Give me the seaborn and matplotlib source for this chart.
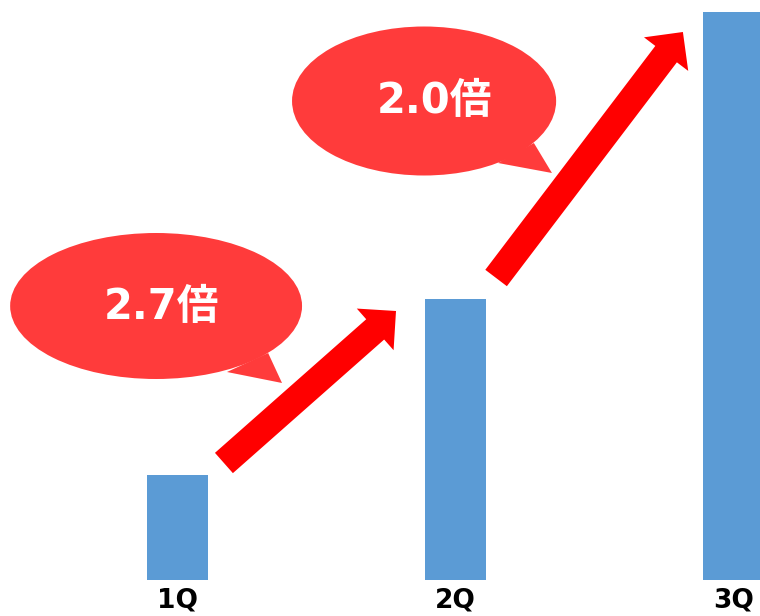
import matplotlib
matplotlib.use("Agg")
import matplotlib.pyplot as plt
import seaborn as sns
import pandas as pd
from matplotlib.patches import Ellipse, Polygon, FancyArrowPatch

# ---- data ----
quarters = ["1Q", "2Q", "3Q"]
sales = [105, 281, 568]
ratio_labels = ["2.7倍", "2.0倍"]

BAR_COLOR = "#5B9BD5"
BUBBLE_COLOR = "#FF3B3B"
ARROW_COLOR = "#FF0000"

sns.set_theme(style="white")
plt.rcParams['font.family'] = ['DejaVu Sans', 'Noto Sans CJK JP']

fig = plt.figure(figsize=(7.6, 6.16), dpi=100)
ax = fig.add_axes([0, 36 / 616, 1, 580 / 616])

df = pd.DataFrame({"q": quarters, "v": sales})
sns.barplot(data=df, x="q", y="v", color=BAR_COLOR, saturation=1,
            width=61 / 278, linewidth=0, ax=ax)

ax.set_xlim(-177.5 / 278, (760 - 177.5) / 278)
ax.set_ylim(0, 580)
for s in ax.spines.values():
    s.set_visible(False)
ax.set_xlabel("")
ax.set_ylabel("")
ax.set_yticks([])
ax.tick_params(axis="x", length=0, pad=5.5)
for lab in ax.get_xticklabels():
    lab.set_fontfamily("DejaVu Sans")
    lab.set_fontweight("bold")
    lab.set_fontsize(19)
    lab.set_color("black")

# ---- speech bubbles ----
bubbles = [
    dict(c=(-0.077, 274), w=1.050, h=146,
         tail=[(0.326, 227), (0.178, 208), (0.376, 197)],
         txt=(-0.056, 273)),
    dict(c=(0.887, 479), w=0.950, h=149,
         tail=[(1.282, 437), (1.153, 417), (1.347, 407)],
         txt=(0.923, 479)),
]
for b, lab in zip(bubbles, ratio_labels):
    ax.add_patch(Ellipse(b["c"], b["w"], b["h"], facecolor=BUBBLE_COLOR,
                         edgecolor="none", zorder=3))
    ax.add_patch(Polygon(b["tail"], closed=True, facecolor=BUBBLE_COLOR,
                         edgecolor="none", zorder=3))
    ax.text(b["txt"][0], b["txt"][1], lab, ha="center", va="center",
            color="white", fontsize=30, fontweight="bold",
            family=['DejaVu Sans', 'Noto Sans CJK JP'], zorder=4)

# ---- arrows ----
arrows = [((0.167, 117), (0.786, 269)), ((1.146, 302), (1.818, 548))]
for a, bpt in arrows:
    ax.add_patch(FancyArrowPatch(
        a, bpt, arrowstyle="simple,head_length=20,head_width=40,tail_width=19.5",
        mutation_scale=1, shrinkA=0, shrinkB=0, facecolor=ARROW_COLOR,
        edgecolor="none", zorder=3))

fig.savefig("out.png", dpi=100)
